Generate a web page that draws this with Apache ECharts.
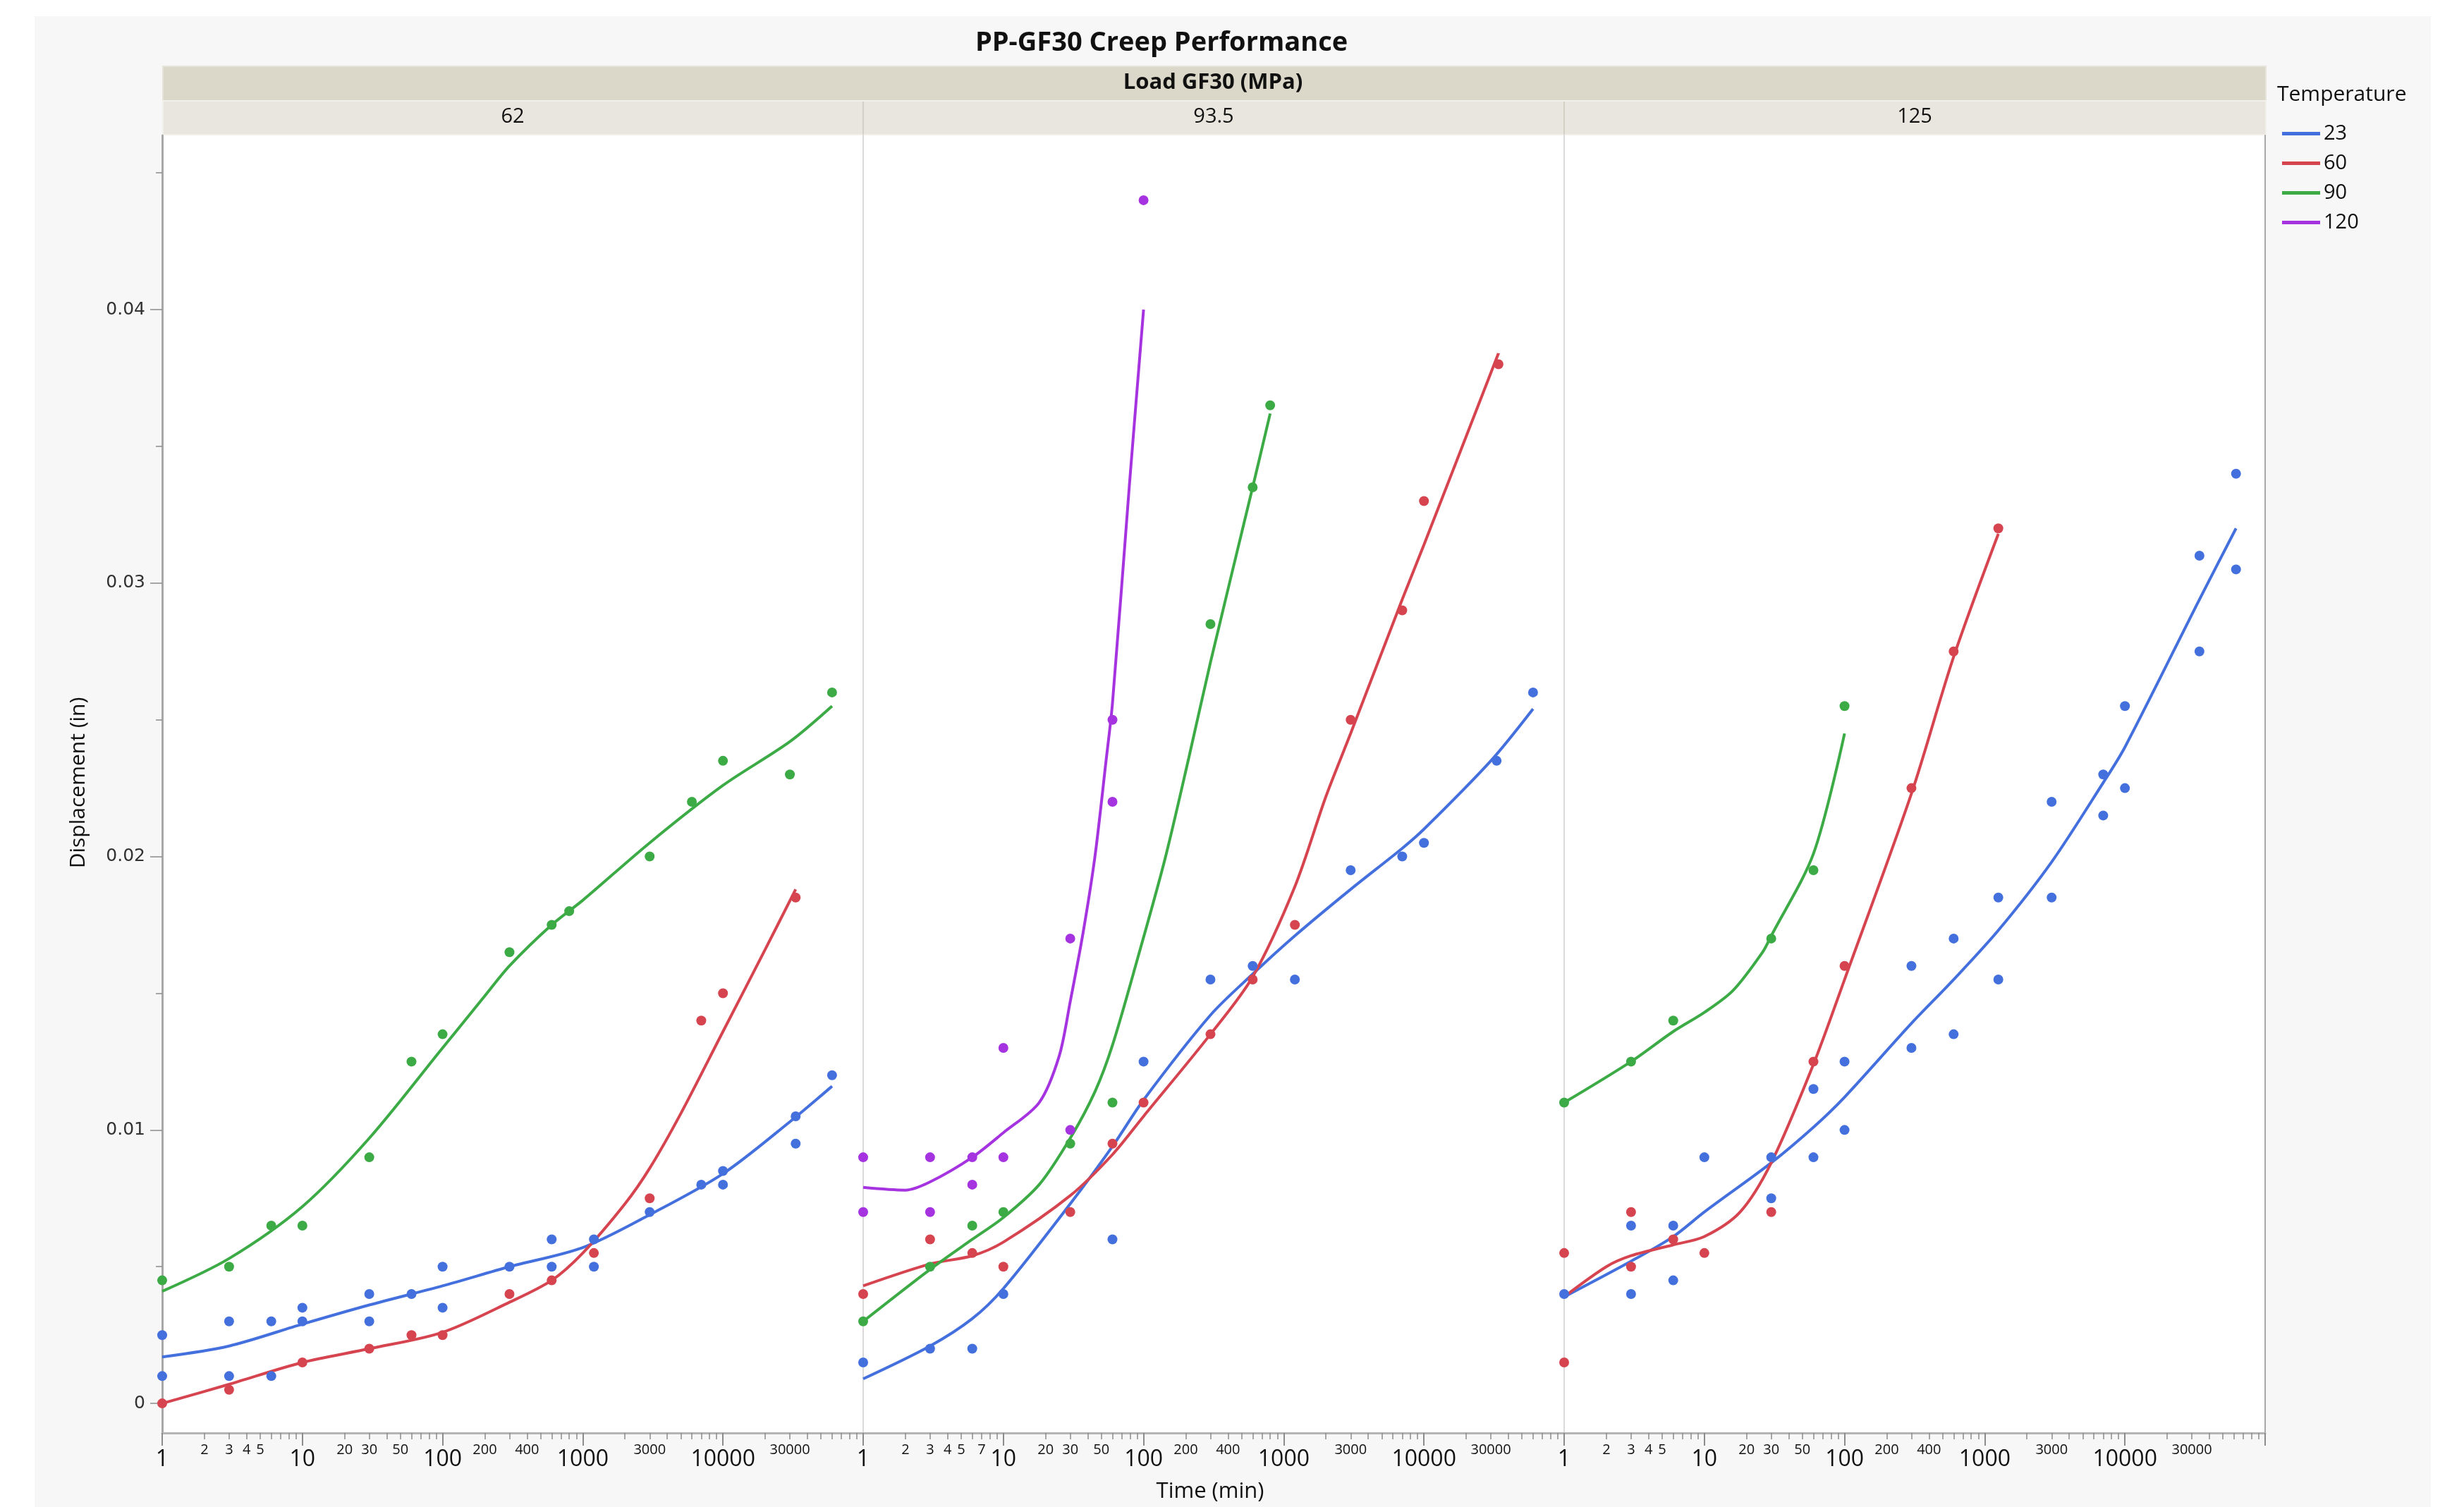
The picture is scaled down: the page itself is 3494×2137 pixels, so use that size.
<!DOCTYPE html>
<html>
<head>
<meta charset="utf-8">
<title>PP-GF30 Creep Performance</title>
<script src="https://cdn.jsdelivr.net/npm/echarts@6/dist/echarts.min.js"></script>
<style>
    html, body { margin: 0; padding: 0; background: #fff; }
    #main { width: 3494px; height: 2137px; }
</style>
</head>
<body>
<div id="main"></div>
<script>
// facets and groups
var loads = ['62', '93.5', '125'];
var temps = ['23', '60', '90', '120'];

// axis ticks / labels
var bigLabels = [1, 10, 100, 1000, 10000];
var majorTicks = [1, 10, 100, 1000, 10000, 100000];
var minorTicks = [2, 3, 4, 5, 6, 7, 8, 9, 20, 30, 40, 50, 60, 70, 80, 90,
    200, 300, 400, 500, 600, 700, 800, 900, 2000, 3000, 4000, 5000, 6000, 7000, 8000, 9000,
    20000, 30000, 40000, 50000, 60000, 70000, 80000, 90000];
var smallLabels62 = [2, 3, 4, 5, 20, 30, 50, 200, 400, 3000, 30000];
var smallLabels93 = [2, 3, 4, 5, 7, 20, 30, 50, 200, 400, 3000, 30000];
var smallLabels125 = [2, 3, 4, 5, 20, 30, 50, 200, 400, 3000, 30000];
var yTickLabels = [0, 0.01, 0.02, 0.03, 0.04];
var yMinorTicks = [0.005, 0.015, 0.025, 0.035, 0.045];

// measured points [time (min), displacement (in)]
var pts62_23 = [[1, 0.0025], [1, 0.001], [3, 0.003], [3, 0.001], [6, 0.003], [6, 0.001], [10, 0.0035], [10, 0.003],
    [30, 0.004], [30, 0.003], [60, 0.004], [100, 0.005], [100, 0.0035], [300, 0.005], [600, 0.006], [600, 0.005],
    [1200, 0.006], [1200, 0.005], [3000, 0.007], [7000, 0.008], [10000, 0.0085], [10000, 0.008],
    [33000, 0.0105], [33000, 0.0095], [60000, 0.012]];
var pts62_60 = [[1, 0], [3, 0.0005], [10, 0.0015], [30, 0.002], [60, 0.0025], [100, 0.0025], [300, 0.004],
    [600, 0.0045], [1200, 0.0055], [3000, 0.0075], [7000, 0.014], [10000, 0.015], [33000, 0.0185]];
var pts62_90 = [[1, 0.0045], [3, 0.005], [6, 0.0065], [10, 0.0065], [30, 0.009], [60, 0.0125], [100, 0.0135],
    [300, 0.0165], [600, 0.0175], [800, 0.018], [3000, 0.02], [6000, 0.022], [10000, 0.0235], [30000, 0.023], [60000, 0.026]];

var pts93_23 = [[1, 0.0015], [3, 0.002], [6, 0.002], [10, 0.004], [60, 0.006], [100, 0.0125], [300, 0.0155],
    [600, 0.016], [1200, 0.0155], [3000, 0.0195], [7000, 0.02], [10000, 0.0205], [33000, 0.0235], [60000, 0.026]];
var pts93_60 = [[1, 0.004], [3, 0.006], [6, 0.0055], [10, 0.005], [30, 0.007], [60, 0.0095], [100, 0.011],
    [300, 0.0135], [600, 0.0155], [1200, 0.0175], [3000, 0.025], [7000, 0.029], [10000, 0.033], [34000, 0.038]];
var pts93_90 = [[1, 0.003], [3, 0.005], [6, 0.0065], [10, 0.007], [30, 0.0095], [60, 0.011], [300, 0.0285],
    [600, 0.0335], [800, 0.0365]];
var pts93_120 = [[1, 0.009], [1, 0.007], [3, 0.009], [3, 0.007], [6, 0.009], [6, 0.008], [10, 0.009], [10, 0.013],
    [30, 0.01], [30, 0.017], [60, 0.022], [60, 0.025], [100, 0.044]];

var pts125_23 = [[1, 0.004], [3, 0.0065], [3, 0.004], [6, 0.0065], [6, 0.0045], [10, 0.009], [30, 0.009], [30, 0.0075],
    [60, 0.0115], [60, 0.009], [100, 0.0125], [100, 0.01], [300, 0.016], [300, 0.013], [600, 0.017], [600, 0.0135],
    [1250, 0.0185], [1250, 0.0155], [3000, 0.022], [3000, 0.0185], [7000, 0.023], [7000, 0.0215],
    [10000, 0.0255], [10000, 0.0225], [34000, 0.031], [34000, 0.0275], [62000, 0.034], [62000, 0.0305]];
var pts125_60 = [[1, 0.0055], [1, 0.0015], [3, 0.007], [3, 0.005], [6, 0.006], [10, 0.0055], [30, 0.007],
    [60, 0.0125], [100, 0.016], [300, 0.0225], [600, 0.0275], [1250, 0.032]];
var pts125_90 = [[1, 0.011], [3, 0.0125], [6, 0.014], [30, 0.017], [60, 0.0195], [100, 0.0255]];

// fitted curves
var fit62_23 = [[1, 0.0017], [3, 0.0021], [10, 0.0029], [30, 0.0036], [100, 0.0043], [300, 0.005], [1000, 0.0057],
    [3000, 0.0069], [10000, 0.0084], [30000, 0.0103], [60000, 0.0116]];
var fit62_60 = [[1, 0], [3, 0.0007], [10, 0.0015], [30, 0.002], [100, 0.0026], [300, 0.0037], [600, 0.0045],
    [1000, 0.0055], [2000, 0.0073], [3000, 0.0086], [5000, 0.0106], [10000, 0.0136], [20000, 0.0166], [33000, 0.0188]];
var fit62_90 = [[1, 0.0041], [3, 0.0053], [10, 0.0072], [30, 0.0097], [100, 0.013], [200, 0.0149], [300, 0.016],
    [600, 0.0175], [1000, 0.0184], [3000, 0.0205], [10000, 0.0226], [30000, 0.0242], [60000, 0.0255]];

var fit93_23 = [[1, 0.0009], [3, 0.0021], [6, 0.0031], [10, 0.0042], [30, 0.0073], [60, 0.0094], [100, 0.0111],
    [300, 0.0142], [600, 0.0157], [1200, 0.0171], [3000, 0.0188], [7000, 0.0203], [10000, 0.021],
    [30000, 0.0235], [60000, 0.0254]];
var fit93_60 = [[1, 0.0043], [3, 0.0051], [6, 0.0054], [10, 0.0059], [30, 0.0076], [60, 0.0091], [100, 0.0105],
    [300, 0.0135], [600, 0.0156], [1200, 0.0189], [2000, 0.0222], [3000, 0.0245], [7000, 0.0294],
    [10000, 0.0314], [34000, 0.0384]];
var fit93_90 = [[1, 0.003], [3, 0.0049], [6, 0.006], [10, 0.0068], [18, 0.008], [30, 0.0097], [45, 0.0114],
    [60, 0.0131], [91, 0.0163], [142, 0.0199], [210, 0.0236], [300, 0.0271], [600, 0.0335], [800, 0.0362]];
var fit93_120 = [[1, 0.0079], [2, 0.0078], [3, 0.0081], [6, 0.009], [10, 0.0099], [18, 0.011], [25, 0.0127],
    [30, 0.0147], [37, 0.0172], [45, 0.02], [54, 0.0235], [60, 0.0256], [79, 0.0335], [100, 0.04]];

var fit125_23 = [[1, 0.0039], [3, 0.0052], [6, 0.0061], [10, 0.007], [30, 0.0088], [60, 0.0101], [100, 0.0112],
    [300, 0.0139], [600, 0.0155], [1250, 0.0173], [3000, 0.0198], [7000, 0.0227], [10000, 0.024],
    [34000, 0.0294], [62000, 0.032]];
var fit125_60 = [[1, 0.0039], [2, 0.005], [3, 0.0054], [6, 0.0058], [10, 0.0061], [18, 0.007], [30, 0.0088],
    [60, 0.0124], [100, 0.0155], [300, 0.0223], [600, 0.0273], [1250, 0.0318]];
var fit125_90 = [[1, 0.011], [3, 0.0125], [6, 0.0136], [10, 0.0143], [16, 0.0151], [26, 0.0165], [30, 0.0171],
    [60, 0.0201], [100, 0.0245]];

var creepChart = (function () {
    var Return = {
        init: function () {
            initChart();
        }
    };

    var FONT = "'Open Sans', 'Noto Sans', sans-serif";
    var colors = { '23': '#4470de', '60': '#d5444f', '90': '#3cab46', '120': '#a534e0' };
    var gridLeft = [230, 1224, 2218];
    var gridWidth = 994;
    var gridTop = 192;
    var gridHeight = 1840;
    var yMin = -0.00108;
    var yMax = 0.04637;

    var panelPoints = [
        { '23': pts62_23, '60': pts62_60, '90': pts62_90 },
        { '23': pts93_23, '60': pts93_60, '90': pts93_90, '120': pts93_120 },
        { '23': pts125_23, '60': pts125_60, '90': pts125_90 }
    ];
    var panelFits = [
        { '23': fit62_23, '60': fit62_60, '90': fit62_90 },
        { '23': fit93_23, '60': fit93_60, '90': fit93_90, '120': fit93_120 },
        { '23': fit125_23, '60': fit125_60, '90': fit125_90 }
    ];
    var panelSmall = [smallLabels62, smallLabels93, smallLabels125];

    var log10 = function (v) { return Math.log(v) / Math.LN10; };
    var timeLabel = function (v) { return String(Math.round(Math.pow(10, v))); };

    var initChart = function () {
        var myChart = echarts.init(document.getElementById('main'));
        var grids = [], xAxes = [], yAxes = [], series = [];

        for (var i = 0; i < 3; i++) {
            grids.push({
                left: gridLeft[i], top: gridTop, width: gridWidth, height: gridHeight,
                show: true, backgroundColor: '#fff', borderWidth: 0
            });
            // data axis (log), hidden
            var logIdx = xAxes.length;
            xAxes.push({
                type: 'log', logBase: 10, gridIndex: i, min: 1, max: 100000,
                position: 'top', show: false
            });
            // decade ticks + labels
            xAxes.push({
                type: 'value', gridIndex: i, min: 0, max: 5, position: 'bottom',
                axisLine: { show: true, onZero: false, lineStyle: { color: '#b4b4b4', width: 3 } },
                axisTick: { show: true, customValues: majorTicks.map(log10), length: 18,
                    lineStyle: { color: '#8c8c8c', width: 2 } },
                axisLabel: { customValues: bigLabels.map(log10), formatter: timeLabel, fontSize: 32,
                    margin: 22, color: '#111', fontFamily: FONT },
                splitLine: { show: false }
            });
            // in-between ticks + small labels
            xAxes.push({
                type: 'value', gridIndex: i, min: 0, max: 5, position: 'bottom',
                axisLine: { show: false, onZero: false },
                axisTick: { show: true, customValues: minorTicks.map(log10), length: 9,
                    lineStyle: { color: '#8c8c8c', width: 1.5 } },
                axisLabel: { customValues: panelSmall[i].map(log10), formatter: timeLabel, fontSize: 20,
                    margin: 14, color: '#111', fontFamily: FONT },
                splitLine: { show: false }
            });

            var yIdx = yAxes.length;
            if (i === 0) {
                yAxes.push({
                    type: 'value', gridIndex: i, min: yMin, max: yMax, position: 'left',
                    axisLine: { show: true, onZero: false, lineStyle: { color: '#a8a8a8', width: 3 } },
                    axisTick: { show: true, customValues: yTickLabels, length: 17,
                        lineStyle: { color: '#8c8c8c', width: 1.5 } },
                    axisLabel: { customValues: yTickLabels, fontSize: 25, margin: 24, color: '#333',
                        fontFamily: "'DejaVu Sans', sans-serif" },
                    splitLine: { show: false }
                });
                yAxes.push({
                    type: 'value', gridIndex: i, min: yMin, max: yMax, position: 'left',
                    axisLine: { show: false, onZero: false },
                    axisTick: { show: true, customValues: yMinorTicks, length: 9,
                        lineStyle: { color: '#8c8c8c', width: 1.5 } },
                    axisLabel: { show: false },
                    splitLine: { show: false }
                });
            } else {
                yAxes.push({
                    type: 'value', gridIndex: i, min: yMin, max: yMax, position: 'left',
                    axisLine: { show: true, onZero: false, lineStyle: { color: '#dadada', width: 2 } },
                    axisTick: { show: false }, axisLabel: { show: false },
                    splitLine: { show: false }
                });
            }
            if (i === 2) {
                yAxes.push({
                    type: 'value', gridIndex: i, min: yMin, max: yMax, position: 'right',
                    axisLine: { show: true, onZero: false, lineStyle: { color: '#a8a8a8', width: 2 } },
                    axisTick: { show: false }, axisLabel: { show: false },
                    splitLine: { show: false }
                });
            }

            temps.forEach(function (t) {
                if (panelFits[i][t]) {
                    series.push({
                        name: t, type: 'line', xAxisIndex: logIdx, yAxisIndex: yIdx,
                        data: panelFits[i][t], smooth: 0.3,
                        showSymbol: false, symbol: 'none',
                        lineStyle: { color: colors[t], width: 4 }, itemStyle: { color: colors[t] },
                        z: 2, silent: true
                    });
                }
                if (panelPoints[i][t]) {
                    series.push({
                        name: t, type: 'scatter', xAxisIndex: logIdx, yAxisIndex: yIdx,
                        data: panelPoints[i][t], symbolSize: 14,
                        itemStyle: { color: colors[t], opacity: 1 }, z: 3
                    });
                }
            });
        }

        var texts = [
            { text: 'PP-GF30 Creep Performance', x: 1647, y: 61, font: 'bold 38px ' + FONT },
            { text: 'Load GF30 (MPa)', x: 1720, y: 117, font: 'bold 31px ' + FONT },
            { text: loads[0], x: 727, y: 166, font: '29px ' + FONT },
            { text: loads[1], x: 1721, y: 166, font: '29px ' + FONT },
            { text: loads[2], x: 2715, y: 166, font: '29px ' + FONT },
            { text: 'Time (min)', x: 1716, y: 2115, font: '31px ' + FONT }
        ];
        var graphics = [
            { type: 'rect', z: -10, silent: true, shape: { x: 49, y: 23, width: 3398, height: 2114 },
                style: { fill: '#f7f7f7' } },
            { type: 'rect', z: -5, silent: true, shape: { x: 231, y: 94, width: 2982, height: 49 },
                style: { fill: '#dbd8c9', stroke: '#e6e4da', lineWidth: 2 } },
            { type: 'rect', z: -5, silent: true, shape: { x: 231, y: 143, width: 2982, height: 48 },
                style: { fill: '#e8e6de', stroke: '#f1f0ea', lineWidth: 2 } },
            { type: 'line', z: -4, silent: true, shape: { x1: 1224, y1: 144, x2: 1224, y2: 191 },
                style: { stroke: '#d3d1c5', lineWidth: 2 } },
            { type: 'line', z: -4, silent: true, shape: { x1: 2218, y1: 144, x2: 2218, y2: 191 },
                style: { stroke: '#d3d1c5', lineWidth: 2 } },
            { type: 'text', silent: true, x: 111, y: 1110, rotation: Math.PI / 2,
                style: { text: 'Displacement (in)', font: '30px ' + FONT, fill: '#111',
                    align: 'center', verticalAlign: 'middle' } },
            { type: 'text', silent: true, x: 3229, y: 134,
                style: { text: 'Temperature', font: '30px ' + FONT, fill: '#111',
                    align: 'left', verticalAlign: 'middle' } }
        ];
        texts.forEach(function (t) {
            graphics.push({
                type: 'text', silent: true, x: t.x, y: t.y,
                style: { text: t.text, font: t.font, fill: '#111', align: 'center', verticalAlign: 'middle' }
            });
        });

        var option = {
            backgroundColor: '#fff',
            animation: false,
            legend: {
                orient: 'vertical', left: 3231, top: 170,
                data: temps, icon: 'rect', itemWidth: 54, itemHeight: 5, itemGap: 13,
                selectedMode: false,
                textStyle: { fontSize: 29, lineHeight: 28, color: '#111', fontFamily: FONT }
            },
            grid: grids,
            xAxis: xAxes,
            yAxis: yAxes,
            graphic: graphics,
            series: series
        };
        myChart.setOption(option);
    };
    return Return;
})();

; (function () {
    creepChart.init();
})();
</script>
</body>
</html>
